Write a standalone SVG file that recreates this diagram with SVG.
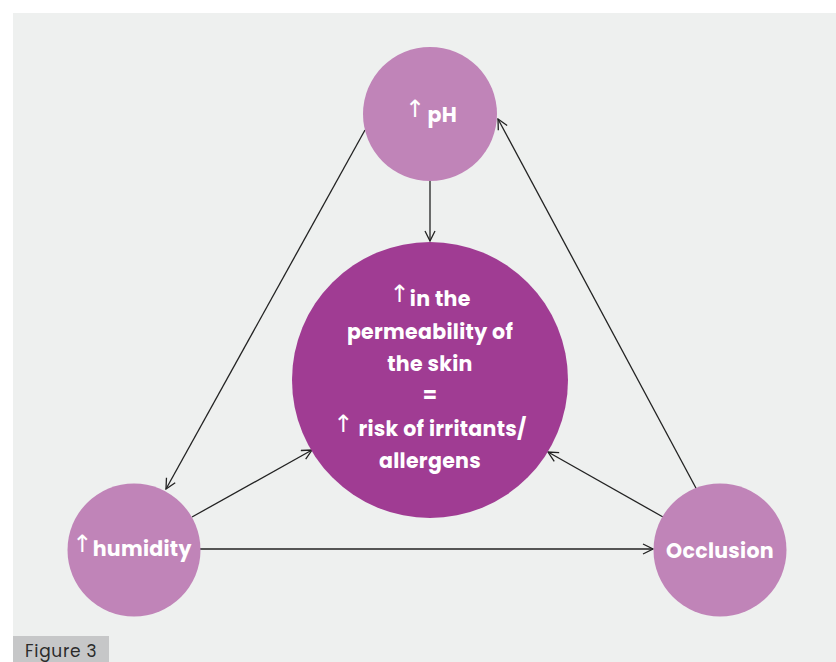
<svg xmlns="http://www.w3.org/2000/svg" width="836" height="662" viewBox="0 0 836 662">
<defs>
<style>
.small{fill:#c084b8}
.big{fill:#a03c93}
.lbl{font-family:"Poppins","Noto Sans","DejaVu Sans",sans-serif;font-weight:700;fill:#ffffff;text-anchor:middle;letter-spacing:0.3px}
.up{font-family:"DejaVu Sans",sans-serif;font-weight:400;font-size:24px}
.edge{stroke:#222222;stroke-width:1.3;fill:none;marker-end:url(#ah)}
</style>
<marker id="ah" viewBox="0 0 12 12" refX="11" refY="6" markerWidth="12" markerHeight="12" markerUnits="userSpaceOnUse" orient="auto">
<path d="M1,1 L11,6 L1,11" fill="none" stroke="#222222" stroke-width="1.3"/>
</marker>
</defs>
<rect x="0" y="0" width="836" height="662" fill="#ffffff"/>
<rect x="13" y="13" width="823" height="649" fill="#eef0ef"/>
<g id="connectors">
<line class="edge" x1="430" y1="181" x2="430" y2="241"/>
<line class="edge" x1="365" y1="130" x2="166" y2="489"/>
<line class="edge" x1="697" y1="490" x2="498" y2="119"/>
<line class="edge" x1="192" y1="517" x2="312" y2="450"/>
<line class="edge" x1="663" y1="517" x2="548" y2="452"/>
<line class="edge" x1="200" y1="549" x2="653" y2="549"/>
</g>
<g id="node-ph">
<circle class="small" cx="430" cy="114" r="67"/>
<text class="lbl" x="431" y="122" font-size="20.5"><tspan class="up" dy="-5">↑</tspan><tspan dy="5" dx="2">pH</tspan></text>
</g>
<g id="node-center">
<circle class="big" cx="430" cy="380" r="138"/>
<text class="lbl" x="430" y="306" font-size="20.5"><tspan class="up" dy="-4">↑</tspan><tspan dy="4">in the</tspan></text>
<text class="lbl" x="430" y="339" font-size="20.5">permeability of</text>
<text class="lbl" x="430" y="371" font-size="20.5">the skin</text>
<text class="lbl" x="430" y="402" font-size="20.5">=</text>
<text class="lbl" x="430" y="436" font-size="20.5"><tspan class="up" dy="-4">↑</tspan><tspan dy="4"> risk of irritants/</tspan></text>
<text class="lbl" x="430" y="468" font-size="20.5">allergens</text>
</g>
<g id="node-humidity">
<circle class="small" cx="134" cy="550" r="66.5"/>
<text class="lbl" x="132" y="556" font-size="20.5"><tspan class="up" dy="-4">↑</tspan><tspan dy="4">humidity</tspan></text>
</g>
<g id="node-occlusion">
<circle class="small" cx="720" cy="550" r="66.5"/>
<text class="lbl" x="720" y="558" font-size="20.5">Occlusion</text>
</g>
<g id="caption">
<rect x="13" y="636" width="96" height="26" fill="#c6c7c8"/>
<text x="25" y="657" font-family="Poppins,'Noto Sans','DejaVu Sans',sans-serif" font-size="17" letter-spacing="0.7" fill="#2b2b2b">Figure 3</text>
</g>
</svg>
